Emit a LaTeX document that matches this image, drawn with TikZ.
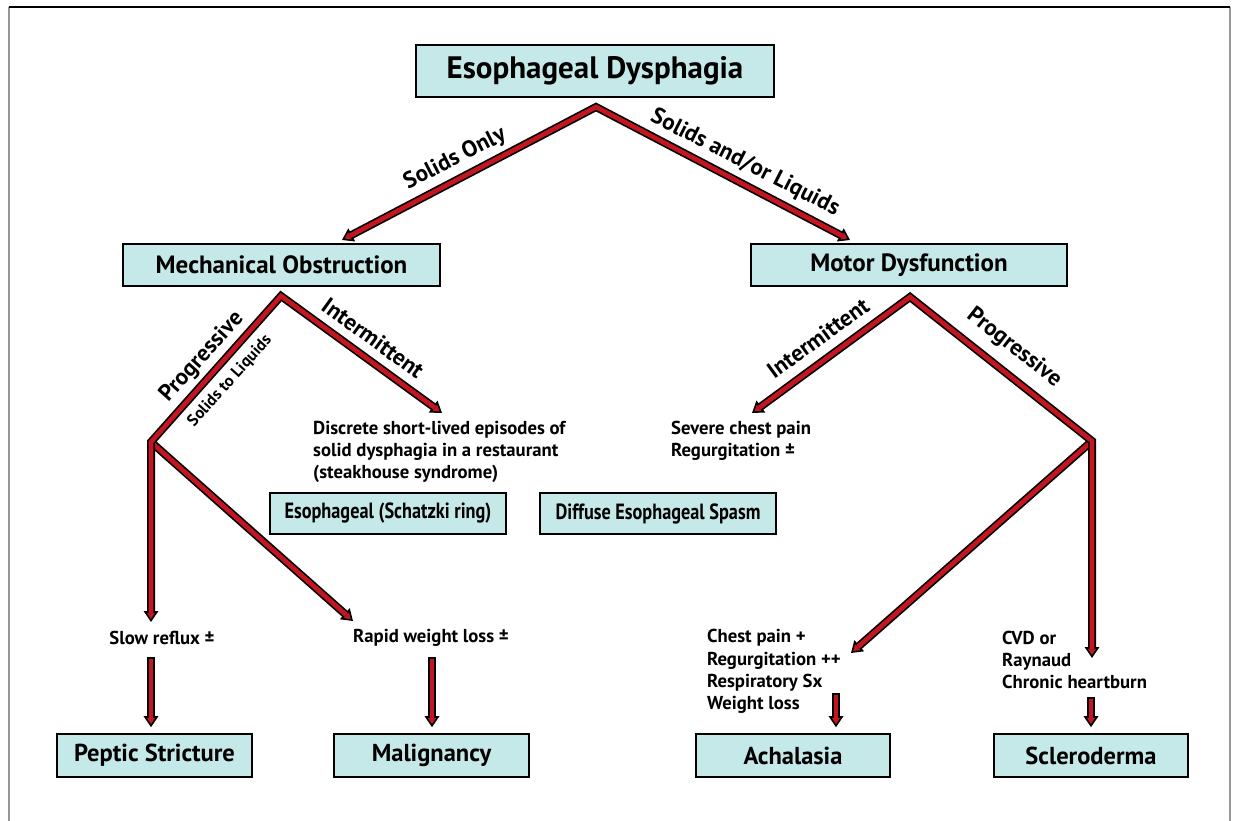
\documentclass[tikz,border=0pt]{standalone}
\usepackage{fontspec}
\usepackage{graphicx}
\setmainfont{PT Sans}
\usetikzlibrary{arrows.meta,calc}
\definecolor{ared}{RGB}{196,22,32}
\definecolor{boxfill}{RGB}{197,232,232}
\definecolor{framegray}{RGB}{150,150,150}
\newcommand{\ftitle}{\fontsize{31}{31}\selectfont\bfseries}
\newcommand{\fmid}{\fontsize{25}{25}\selectfont\bfseries}
\newcommand{\fcond}{\fontsize{22}{22}\selectfont\bfseries}
\newcommand{\fbot}{\fontsize{24.5}{24.5}\selectfont\bfseries}
\newcommand{\flab}{\fontsize{23}{23}\selectfont\bfseries}
\newcommand{\fsmall}{\fontsize{18.7}{22.2}\selectfont\bfseries}
\newcommand{\ftiny}{\fontsize{16.5}{16.5}\selectfont\bfseries}
\newcommand{\narrow}[1]{\scalebox{0.83}[1]{#1}}
\tikzset{
  box/.style={draw=black, line width=1.6pt, fill=boxfill, inner sep=0pt},
  txt/.style={inner sep=0pt, align=left},
  rlab/.style={inner sep=0pt, font=\flab},
  headarr/.style={draw=black, line width=1.6pt, -{Triangle[length=11pt,width=14.5pt,fill=ared]}},
  shaft/.style={draw=ared, line width=4.6pt, line join=miter, miter limit=20,
    preaction={draw=black, line width=8pt, line join=miter, miter limit=20}},
}
\begin{document}
\begin{tikzpicture}[x=1pt,y=-1pt]
\useasboundingbox (0,0) rectangle (1233,821);
% frame
\draw[framegray, line width=1.5pt] (9,7) -- (9,821);
\draw[framegray, line width=1.5pt] (1230,7) -- (1230,821);
\draw[black, line width=1.5pt] (9,7) -- (1230,7);

% boxes
\node[box, minimum width=358pt, minimum height=52pt, font=\ftitle] (title) at (595,71) {Esophageal Dysphagia};
\node[box, minimum width=317pt, minimum height=42pt, font=\fmid] (mech) at (281.5,265) {Mechanical Obstruction};
\node[box, minimum width=316pt, minimum height=42pt, font=\fmid] (motor) at (909,265) {Motor Dysfunction};
\node[box, minimum width=236pt, minimum height=41pt, font=\fcond] (schatzki) at (388,513.5) {\narrow{Esophageal (Schatzki ring)}};
\node[box, minimum width=236pt, minimum height=41pt, font=\fcond] (diffuse) at (658,513.5) {\narrow{Diffuse Esophageal Spasm}};
\node[box, minimum width=195pt, minimum height=43pt, font=\fbot] (peptic) at (154.5,755.5) {Peptic Stricture};
\node[box, minimum width=195pt, minimum height=43pt, font=\fbot] (malig) at (431.5,755.5) {Malignancy};
\node[box, minimum width=194pt, minimum height=43pt, font=\fbot] (achal) at (793,755.5) {Achalasia};
\node[box, minimum width=194pt, minimum height=43pt, font=\fbot] (sclero) at (1091,755.5) {Scleroderma};

% texts
\node[txt, font=\fsmall, anchor=west] (disc) at (313,452) {Discrete short-lived episodes of\\solid dysphagia in a restaurant\\(steakhouse syndrome)};
\node[txt, font=\fsmall, anchor=west] (severe) at (671,441) {Severe chest pain\\Regurgitation \textpm};
\node[txt, font=\fsmall] (slow) at (162,638) {Slow reflux \textpm};
\node[txt, font=\fsmall] (rapid) at (431,638) {Rapid weight loss \textpm};
\node[txt, font=\fsmall, anchor=west] (achtxt) at (707,671.5) {Chest pain +\\Regurgitation ++\\Respiratory Sx\\Weight loss};
\node[txt, font=\fsmall, anchor=west] (scltxt) at (1002,660) {CVD or\\Raynaud\\Chronic heartburn};

% arrow geometry
\coordinate (a0) at (596,107);
\coordinate (t0L) at (342,240);
\coordinate (t0R) at (850,240);
\coordinate (a1) at (281,296);
\coordinate (b1) at (151,442);
\coordinate (t1a) at (151,622);
\coordinate (t1b) at (353,621);
\coordinate (t1c) at (442,413);
\coordinate (a2) at (910,297);
\coordinate (b2) at (1092,441);
\coordinate (t2a) at (1092,658);
\coordinate (t2b) at (851,653);
\coordinate (t2c) at (752,413);
\coordinate (s1) at (151,657);
\coordinate (s2) at (432,657);
\coordinate (s3) at (836,693);
\coordinate (s4) at (1091,697);
\coordinate (e1) at ($(s1 |- peptic.north)+(0,-6)$);
\coordinate (e2) at ($(s2 |- malig.north)+(0,-6)$);
\coordinate (e3) at ($(s3 |- achal.north)+(0,-6)$);
\coordinate (e4) at ($(s4 |- sclero.north)+(0,-6)$);

% tips
\foreach \p/\q in {a0/t0L,a0/t0R,a1/t1c,b1/t1a,b1/t1b,a2/t2c,b2/t2a,b2/t2b,s1/e1,s2/e2,s3/e3,s4/e4}
  \draw[headarr] (\p) -- (\q);

% diagonals
\draw[shaft, shorten >=9pt] (b1) -- (t1b);
\draw[shaft, shorten >=9pt] (b2) -- (t2b);
% chevrons
\draw[shaft, shorten >=9pt, shorten <=9pt] (t0L) -- (a0) -- (t0R);
\draw[shaft, shorten >=9pt, shorten <=9pt] (t1c) -- (a1) -- (b1) -- (t1a);
\draw[shaft, shorten >=9pt, shorten <=9pt] (t2c) -- (a2) -- (b2) -- (t2a);
% short arrows
\foreach \p/\q in {s1/e1,s2/e2,s3/e3,s4/e4}
  \draw[draw=ared, line width=4.6pt, shorten >=9pt, shorten <=1.7pt,
    preaction={draw=black, line width=8pt, shorten <=0pt}] (\p) -- (\q);

% labels
\node[rlab, rotate=27] (lso) at (455,159) {Solids Only};
\node[rlab, rotate=-27] (lsl) at (745,163) {Solids and/or Liquids};
\node[rlab, rotate=48] (lp1) at (202,357) {Progressive};
\node[inner sep=0pt, font=\ftiny, rotate=48] (lstl) at (230,381) {Solids to Liquids};
\node[rlab, rotate=-36] (li1) at (373,338) {Intermittent};
\node[rlab, rotate=36] (li2) at (818,338) {Intermittent};
\node[rlab, rotate=-38] (lp2) at (1014,348) {Progressive};
\end{tikzpicture}
\end{document}
